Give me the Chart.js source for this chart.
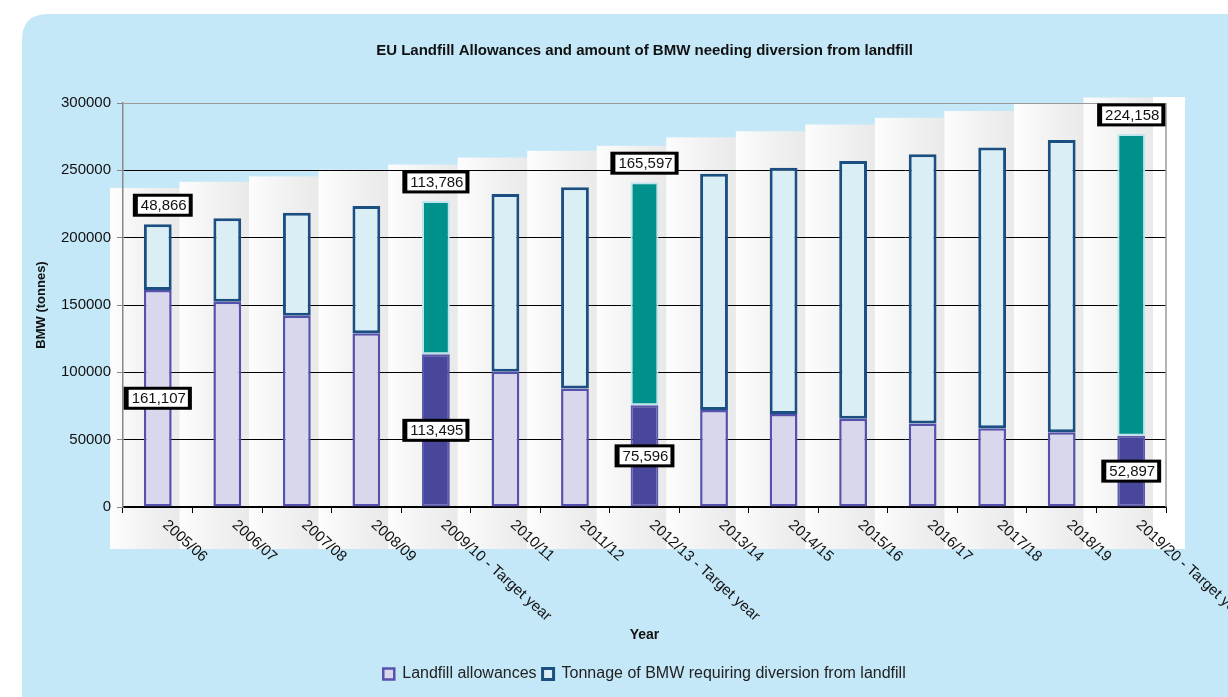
<!DOCTYPE html>
<html>
<head>
<meta charset="utf-8">
<script src="https://cdn.jsdelivr.net/npm/chart.js@4.4.0/dist/chart.umd.min.js"></script>
<style>
  html, body { margin: 0; padding: 0; background: #fff; }
</style>
</head>
<body>
<canvas id="bmw" width="1228" height="697"></canvas>
<script>
const years = ['2005/06', '2006/07', '2007/08', '2008/09', '2009/10 - Target year', '2010/11', '2011/12',
  '2012/13 - Target year', '2013/14', '2014/15', '2015/16', '2016/17', '2017/18', '2018/19', '2019/20 - Target year'];
const allowances = [161107, 152500, 142000, 129000, 113495, 100500, 88000, 75596, 72000, 69000, 65500, 62000, 58500, 55500, 52897];
const diversion = [48866, 62000, 76500, 94500, 113786, 132000, 149500, 165597, 175500, 183000, 191500, 200000, 208500, 217000, 224158];
const targetIdx = [4, 7, 14];
const labelIdx = [0, 4, 7, 14];
const yMax = 300000;
const yStep = 50000;

const FONT = 'Arial, "Liberation Sans", sans-serif';

const isTarget = i => targetIdx.includes(i);
const allowFill = years.map((y, i) => isTarget(i) ? '#48479b' : '#d9d7ec');
const allowBorder = years.map((y, i) => isTarget(i) ? '#5c5aae' : '#5651ad');
const allowWidth = years.map((y, i) => isTarget(i) ? 2 : 2.5);
const divFill = years.map((y, i) => isTarget(i) ? '#00918c' : '#daeef6');
const divBorder = years.map((y, i) => isTarget(i) ? '#bfe6ee' : '#1b4f82');
const divWidth = years.map((y, i) => isTarget(i) ? 2 : 3);

function roundRect(ctx, x, y, w, h, r) {
  ctx.beginPath();
  ctx.moveTo(x + r, y);
  ctx.lineTo(x + w, y);
  ctx.lineTo(x + w, y + h);
  ctx.lineTo(x, y + h);
  ctx.lineTo(x, y + r);
  ctx.quadraticCurveTo(x, y, x + r, y);
  ctx.closePath();
}

// blue panel and the pale back wall behind the bars
const backdrop = {
  id: 'backdrop',
  beforeDraw(chart) {
    const ctx = chart.ctx;
    const area = chart.chartArea;
    const x = chart.scales.x, y = chart.scales.y;
    ctx.save();
    ctx.fillStyle = '#c4e8f8';
    roundRect(ctx, 22, 14, 1300, 800, 26);
    ctx.fill();

    const half = (x.getPixelForTick(1) - x.getPixelForTick(0)) / 2;
    const bottom = x.top + 42;
    for (let i = 0; i < years.length; i++) {
      const cx = x.getPixelForTick(i);
      const left = cx - half - 13;
      const right = cx + half - 13 + 1;
      const top = y.getPixelForValue(allowances[i] + diversion[i] + 27000);
      const g = ctx.createLinearGradient(left, 0, right, 0);
      g.addColorStop(0, '#fdfdfd');
      g.addColorStop(0.55, '#f1f1f1');
      g.addColorStop(1, '#e9e9e9');
      ctx.fillStyle = g;
      ctx.fillRect(left, top, right - left, bottom - top);
    }
    const lastRight = x.getPixelForTick(years.length - 1) + half - 13;
    ctx.fillStyle = '#ffffff';
    ctx.fillRect(lastRight, y.getPixelForValue(yMax) - 6, area.right + 19 - lastRight, bottom - y.getPixelForValue(yMax) + 6);
    ctx.restore();
  },
  beforeDatasetsDraw(chart) {
    const ctx = chart.ctx;
    const area = chart.chartArea;
    ctx.save();
    ctx.strokeStyle = '#9a9a9a';
    ctx.lineWidth = 1.5;
    ctx.beginPath();
    ctx.moveTo(area.right, area.top);
    ctx.lineTo(area.right, area.bottom);
    ctx.stroke();
    ctx.restore();
  }
};

// boxed value labels on the target years
const valueBoxes = {
  id: 'valueBoxes',
  afterDatasetsDraw(chart) {
    const ctx = chart.ctx;
    ctx.save();
    ctx.font = '15px ' + FONT;
    ctx.textAlign = 'center';
    ctx.textBaseline = 'middle';
    const drawBox = (txt, cx, cy) => {
      const w = ctx.measureText(txt).width + 14;
      const h = 23;
      ctx.fillStyle = '#000';
      ctx.fillRect(cx - w / 2, cy - h / 2, w, h);
      ctx.fillStyle = '#fff';
      ctx.fillRect(cx - w / 2 + 5, cy - h / 2 + 3, w - 9, h - 6);
      ctx.fillStyle = '#111';
      ctx.fillText(txt, cx + 1, cy + 1);
    };
    const m0 = chart.getDatasetMeta(0);
    const m1 = chart.getDatasetMeta(1);
    labelIdx.forEach(i => {
      const a = m0.data[i];
      drawBox(allowances[i].toLocaleString('en-US'), a.x, (a.y + a.base) / 2);
      const d = m1.data[i];
      drawBox(diversion[i].toLocaleString('en-US'), d.x + (i === 0 ? 5 : 0), d.y - 19);
    });
    ctx.restore();
  }
};

// slanted category labels and axis title
const xLabels = {
  id: 'xLabels',
  afterDraw(chart) {
    const ctx = chart.ctx;
    const x = chart.scales.x;
    ctx.save();
    ctx.fillStyle = '#111';
    ctx.font = '15px ' + FONT;
    ctx.textAlign = 'left';
    ctx.textBaseline = 'middle';
    years.forEach((lbl, i) => {
      ctx.save();
      ctx.translate(x.getPixelForTick(i) + 7, x.top + 16);
      ctx.rotate(42 * Math.PI / 180);
      ctx.fillText(lbl, 0, 0);
      ctx.restore();
    });
    ctx.font = 'bold 14px ' + FONT;
    ctx.textAlign = 'center';
    ctx.fillText('Year', (chart.chartArea.left + chart.chartArea.right) / 2, 635);
    ctx.restore();
  }
};

new Chart(document.getElementById('bmw'), {
  type: 'bar',
  data: {
    labels: years,
    datasets: [
      {
        label: 'Landfill allowances',
        data: allowances,
        backgroundColor: allowFill,
        borderColor: allowBorder,
        borderWidth: allowWidth,
        borderSkipped: false,
        barPercentage: 0.4,
        categoryPercentage: 1
      },
      {
        label: 'Tonnage of BMW requiring diversion from landfill',
        data: diversion,
        backgroundColor: divFill,
        borderColor: divBorder,
        borderWidth: divWidth,
        borderSkipped: false,
        barPercentage: 0.4,
        categoryPercentage: 1
      }
    ]
  },
  options: {
    responsive: false,
    animation: false,
    layout: { padding: { left: 30, right: 62, top: 0, bottom: 5 } },
    plugins: {
      tooltip: { enabled: false },
      title: {
        display: true,
        fullSize: false,
        text: 'EU Landfill Allowances and amount of BMW needing diversion from landfill',
        color: '#111',
        font: { family: FONT, size: 15, weight: 'bold' },
        padding: { top: 42, bottom: 43 }
      },
      legend: {
        position: 'bottom',
        fullSize: false,
        labels: {
          color: '#222',
          font: { family: FONT, size: 16 },
          boxWidth: 11,
          boxHeight: 11,
          padding: 6
        }
      }
    },
    scales: {
      x: {
        stacked: true,
        grid: { offset: true, drawOnChartArea: false, drawTicks: true, tickLength: 6, color: '#000' },
        border: { color: '#000', width: 1.5 },
        ticks: { display: false },
        afterFit(scale) { scale.height = 153; }
      },
      y: {
        stacked: true,
        min: 0,
        max: yMax,
        ticks: {
          stepSize: yStep,
          color: '#111',
          font: { family: FONT, size: 15 },
          padding: 6,
          callback: v => String(v)
        },
        grid: {
          color: ctx => ctx.tick && ctx.tick.value === yMax ? '#9a9a9a' : '#000',
          lineWidth: 1,
          tickLength: 6,
          tickColor: '#888'
        },
        border: { color: '#888', width: 1.5 },
        title: {
          display: true,
          text: 'BMW (tonnes)',
          color: '#111',
          font: { family: FONT, size: 13, weight: 'bold' }
        },
        afterFit(scale) { scale.width = 93; }
      }
    }
  },
  plugins: [backdrop, valueBoxes, xLabels]
});
</script>
</body>
</html>
